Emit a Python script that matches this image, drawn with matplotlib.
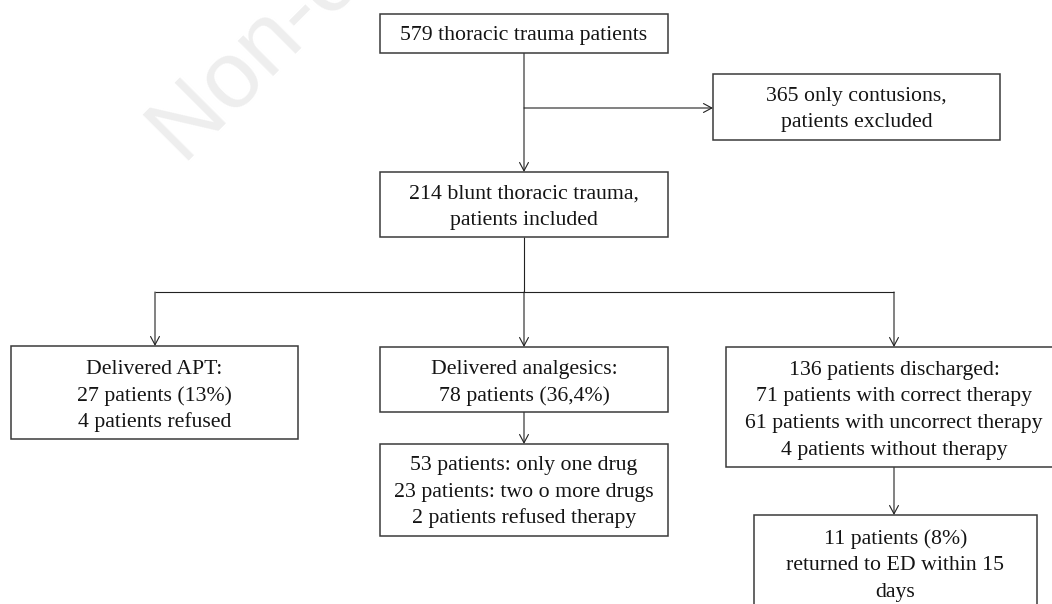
import matplotlib
matplotlib.use("Agg")
import matplotlib.pyplot as plt
from matplotlib.patches import Rectangle, FancyArrowPatch

# ---- content (text of each box) ----
box_top = ["579 thoracic trauma patients"]
box_excluded = ["365 only contusions,", "patients excluded"]
box_included = ["214 blunt thoracic trauma,", "patients included"]
box_apt = ["Delivered APT:", "27 patients (13%)", "4 patients refused"]
box_analgesics = ["Delivered analgesics:", "78 patients (36,4%)"]
box_drugs = ["53 patients: only one drug", "23 patients: two o more drugs",
             "2 patients refused therapy"]
box_discharged = ["136 patients discharged:", "71 patients with correct therapy",
                  "61 patients with uncorrect therapy", "4 patients without therapy"]
box_returned = ["11 patients (8%)", "returned to ED within 15", "days"]
watermark = "Non-commercial use only"

# ---- layout (pixel coordinates: x0, x1, y0, y1, first line centre) ----
layout = {
    "top":        (box_top,        380, 668, 14, 53, 33),
    "excluded":   (box_excluded,   713, 1000, 74, 140, 94),
    "included":   (box_included,   380, 668, 172, 237, 192),
    "apt":        (box_apt,        11, 298, 346, 439, 367),
    "analgesics": (box_analgesics, 380, 668, 347, 412, 367),
    "drugs":      (box_drugs,      380, 668, 444, 536, 463),
    "discharged": (box_discharged, 726, 1062, 347, 467, 368),
    "returned":   (box_returned,   754, 1037, 515, 625, 537),
}
LINE_STEP = 26.5

W, H = 1052, 604
fig = plt.figure(figsize=(W / 100, H / 100), dpi=100)
ax = fig.add_axes([0, 0, 1, 1])
ax.set_xlim(0, W)
ax.set_ylim(H, 0)
ax.axis("off")

FONT = "Liberation Serif"
EDGE = "#3a3a3a"
LINE = "#222222"

# watermark (cut by the top edge, as in the reference)
ax.text(184, 166, watermark, rotation=45, rotation_mode="anchor",
        ha="left", va="baseline", fontsize=68, family="Liberation Sans",
        color="#eeeeee", zorder=0)

for key, (lines, x0, x1, y0, y1, ly) in layout.items():
    ax.add_patch(Rectangle((x0, y0), x1 - x0, y1 - y0, facecolor="white",
                           edgecolor=EDGE, linewidth=1.1, zorder=2))
    cx = (x0 + x1) / 2
    for i, t in enumerate(lines):
        ax.text(cx, ly + i * LINE_STEP + 7, t, ha="center", va="baseline",
                fontsize=15.7, family=FONT, color="#141414", zorder=3)


def arrow(p, q):
    ax.add_patch(FancyArrowPatch(p, q, arrowstyle="->,head_length=0.6,head_width=0.32",
                                 mutation_scale=10, shrinkA=0, shrinkB=0,
                                 color=LINE, linewidth=0.8, zorder=1))


def line(p, q):
    ax.plot([p[0], q[0]], [p[1], q[1]], color=LINE, linewidth=0.8, zorder=1,
            solid_capstyle="butt")


arrow((524, 53), (524, 172))
arrow((524, 108), (713, 108))
line((524, 237), (524, 292))
line((155, 292), (894, 292))
arrow((155, 292), (155, 346))
arrow((524, 292), (524, 347))
arrow((894, 292), (894, 347))
arrow((524, 412), (524, 444))
arrow((894, 467), (894, 515))

fig.savefig("out.png", dpi=100, facecolor="white")
